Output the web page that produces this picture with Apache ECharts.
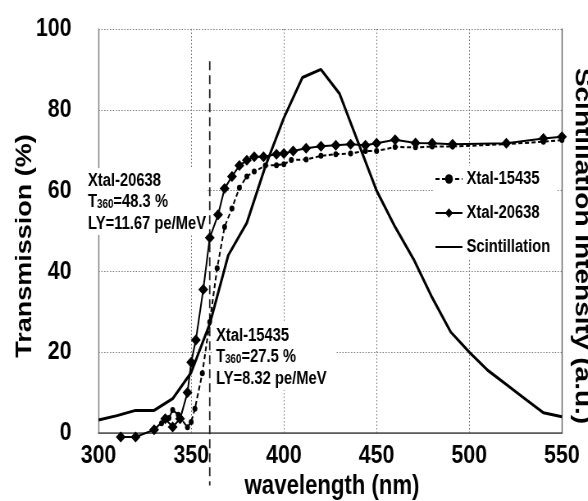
<!DOCTYPE html>
<html><head><meta charset="utf-8">
<script src="https://cdn.jsdelivr.net/npm/echarts@6/dist/echarts.min.js"></script>
<style>
html,body{margin:0;padding:0;background:#fff;overflow:hidden;width:588px;height:501px}
#c{width:717px;height:501px;transform:scaleX(0.82);transform-origin:0 0}
</style>
</head><body><div id="c"></div>
<script>
// ---- data ----
const xTicks = [300, 350, 400, 450, 500, 550];
const yTicks = [0, 20, 40, 60, 80, 100];
const scintWl  = [300,310,320,330,340,350,360,370,380,390,400,410,420,430,440,450,460,470,480,490,500,510,520,530,540,550];
const scintVal = [3.2,4.3,5.6,5.6,8.5,15,27,44,52,66,78,88,90,84,72,60,51,43,33.5,25,20,15.5,12,8.5,5,4];
const x20638Wl = [312,320,330,336,340,344,348,350,352.5,356.5,360,364.5,368,372,376,380,384,389,396,400,405,412,420,428,436,444,450,460,471,480,491,520,540,550];
const x20638T  = [-1,-1,0.8,3.5,1.5,3.5,10,17.5,23,35.5,48.3,54,60.5,63.5,66.2,67.5,68.4,68.4,69,69.2,69.8,70.5,71,71.2,71.5,71.2,71.7,72.6,71.8,71.7,71.5,71.7,72.9,73.3];
const x15435Wl = [330,334,338,340,343,348,350,352,356,360,364,368,372,376,380,384,390,396,400,404,412,420,428,436,444,450,460,471,480,491,520,540,550];
const x15435T  = [0.8,2.4,3.7,5.7,4.5,1.4,2.7,6,14.8,27.5,40.8,51,55.6,60.7,63.5,64.7,66.2,66.3,66.5,67.6,67.7,68.6,69,69.2,69.8,69.8,70.8,70.7,70.9,70.9,71.5,72.1,72.5];
const cutWl  = [360, 360];
const cutVal = [92, -13];
const seriesNames = ['Xtal-15435', 'Xtal-20638', 'Scintillation'];
const note20638 = ['Xtal-20638', '48.3 %', 'LY=11.67 pe/MeV'];
const note15435 = ['Xtal-15435', '27.5 %', 'LY=8.32 pe/MeV'];

// the whole chart is drawn 1/0.82 wider and squeezed by CSS (condensed look of the original)
const SX = 0.82;
const px = v => v / SX;
const FONT = '"Liberation Sans", Arial, sans-serif';
const pair = (a, b) => a.map((v, i) => [v, b[i]]);

const chart = echarts.init(document.getElementById('c'), null, {renderer: 'canvas'});
const gridLine = {show: true, lineStyle: {color: '#777', type: [1.5, 2], width: 1}};
const richT = {
  a: {fontFamily: FONT, fontWeight: 'bold', fontSize: 18, color: '#000'},
  s: {fontFamily: FONT, fontWeight: 'bold', fontSize: 12, color: '#000', padding: [5, 0, 0, 0]}
};
function noteGroup(lines, x, y, w, h, dy) {
  return {
    type: 'group', x: px(x), y: y, z: 100,
    children: [
      {type: 'rect', shape: {x: 0, y: 0, width: px(w), height: h}, style: {fill: '#fff'}, z: 100},
      {type: 'text', x: px(4), y: dy, z: 101, style: {text: lines[0], font: 'bold 18px ' + FONT, fill: '#000', textVerticalAlign: 'middle'}},
      {type: 'text', x: px(4), y: dy + 21.5, z: 101, style: {text: '{a|T}{s|360}{a|=' + lines[1] + '}', rich: richT, textVerticalAlign: 'middle'}},
      {type: 'text', x: px(4), y: dy + 43, z: 101, style: {text: lines[2], font: 'bold 18px ' + FONT, fill: '#000', textVerticalAlign: 'middle'}}
    ]
  };
}

chart.setOption({
  animation: false,
  backgroundColor: '#fff',
  grid: {left: px(98.5), right: px(26), top: 29, bottom: 68},
  xAxis: [{
    type: 'value', min: xTicks[0], max: xTicks[xTicks.length - 1], interval: xTicks[1] - xTicks[0],
    axisLine: {show: true, onZero: false, lineStyle: {color: '#777', width: 1.2}},
    axisTick: {show: false},
    splitLine: gridLine,
    axisLabel: {fontFamily: FONT, fontWeight: 'bold', fontSize: 26, color: '#000', margin: 10}
  }, {
    type: 'value', position: 'top', min: xTicks[0], max: xTicks[xTicks.length - 1],
    axisLine: {show: true, lineStyle: {color: '#555', width: 1.5}},
    axisTick: {show: false}, axisLabel: {show: false}, splitLine: {show: false}
  }],
  yAxis: [{
    type: 'value', min: yTicks[0], max: yTicks[yTicks.length - 1], interval: yTicks[1] - yTicks[0],
    axisLine: {show: true, lineStyle: {color: '#777', width: 1.4}},
    axisTick: {show: false},
    splitLine: gridLine,
    axisLabel: {fontFamily: FONT, fontWeight: 'bold', fontSize: 26, color: '#000', margin: px(27), padding: [0, 0, 8, 0]}
  }, {
    type: 'value', position: 'right', min: yTicks[0], max: yTicks[yTicks.length - 1],
    axisLine: {show: true, lineStyle: {color: '#666', width: 1.4}},
    axisTick: {show: false}, axisLabel: {show: false}, splitLine: {show: false}
  }],
  legend: {
    orient: 'vertical', left: px(433), top: 166, itemWidth: px(27), itemHeight: 12, itemGap: 16,
    backgroundColor: '#fff', padding: [4, 8, 4, 2], z: 50,
    textStyle: {fontFamily: FONT, fontWeight: 'bold', fontSize: 18, color: '#000', lineHeight: 18},
    data: [
      {name: seriesNames[0]},
      {name: seriesNames[1]},
      {name: seriesNames[2], itemStyle: {opacity: 0}}
    ]
  },
  series: [
    {
      name: seriesNames[0], type: 'line', data: pair(x15435Wl, x15435T), clip: false,
      symbol: 'circle', symbolSize: 6, showAllSymbol: true,
      lineStyle: {color: '#000', width: 2, type: [5, 3]}, itemStyle: {color: '#000'}, z: 3
    },
    {
      name: seriesNames[1], type: 'line', data: pair(x20638Wl, x20638T), clip: false,
      symbol: 'diamond', symbolSize: [12, 11], showAllSymbol: true,
      lineStyle: {color: '#000', width: 2}, itemStyle: {color: '#000'}, z: 4
    },
    {
      name: seriesNames[2], type: 'line', data: pair(scintWl, scintVal), clip: false,
      symbol: 'none', lineStyle: {color: '#000', width: 3}, itemStyle: {color: '#000'}, z: 5
    },
    {
      name: 'cut', type: 'line', data: pair(cutWl, cutVal), clip: false, silent: true,
      symbol: 'none', lineStyle: {color: '#222', width: 1.8, type: [9, 5]}, z: 2
    }
  ],
  graphic: [
    noteGroup(note20638, 84, 168, 123, 67, 13),
    noteGroup(note15435, 212, 322, 124, 68, 14),
    {type: 'text', x: px(25), y: 246, rotation: Math.PI / 2, z: 100,
     style: {text: 'Transmission (%)', font: 'bold 27px ' + FONT, fill: '#000', textAlign: 'center', textVerticalAlign: 'middle'}},
    {type: 'text', x: px(582), y: 246, rotation: -Math.PI / 2, z: 100,
     style: {text: 'Scintillation Intensity (a.u.)', font: 'bold 28px ' + FONT, fill: '#000', textAlign: 'center', textVerticalAlign: 'middle'}},
    {type: 'text', x: px(332), y: 487, z: 100,
     style: {text: 'wavelength (nm)', font: 'bold 27px ' + FONT, fill: '#000', textAlign: 'center', textVerticalAlign: 'middle'}}
  ]
});
</script></body></html>
